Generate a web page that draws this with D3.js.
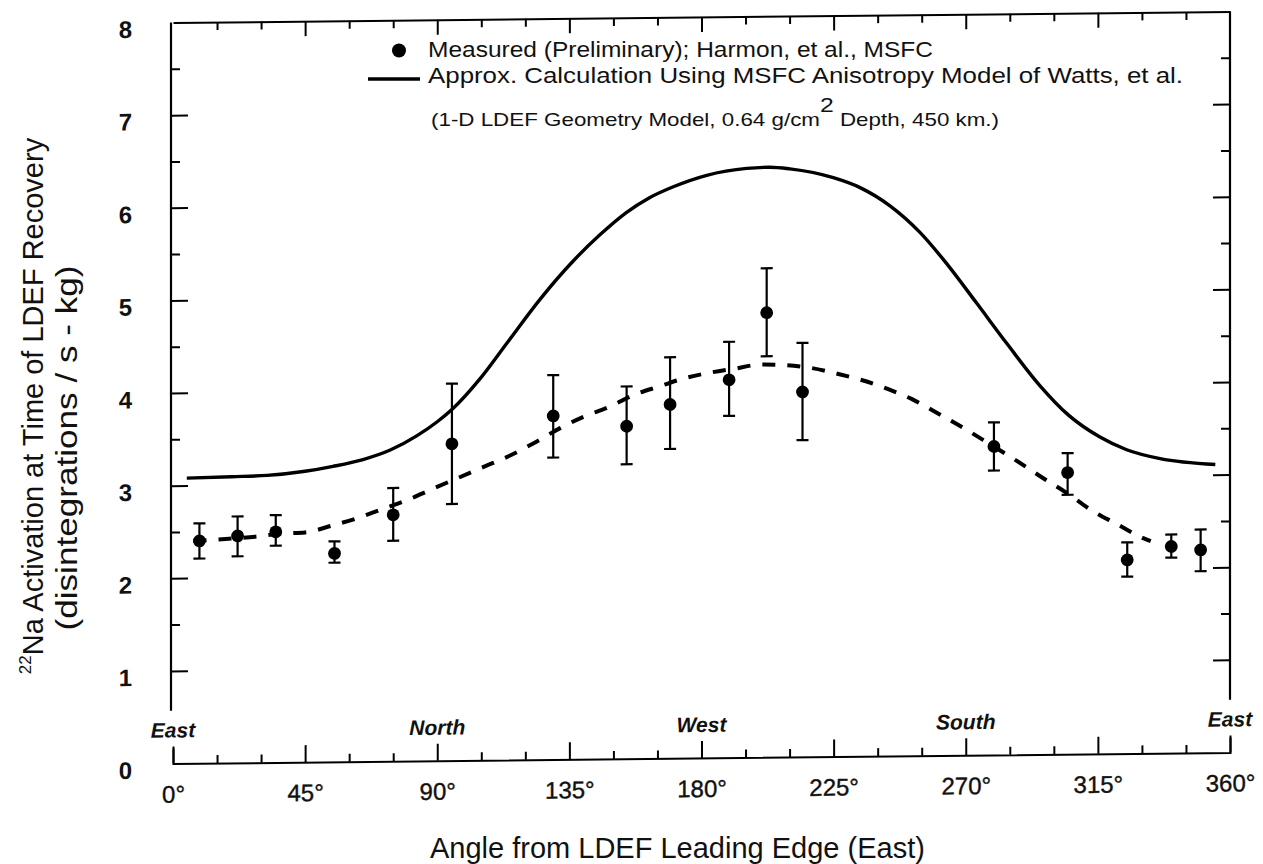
<!DOCTYPE html>
<html>
<head>
<meta charset="utf-8">
<script src="https://cdn.jsdelivr.net/npm/d3@7"></script>
<style>
  body { margin: 0; background: #fff; }
  svg { display: block; }
  text { font-family: "Liberation Sans", Arial, Helvetica, sans-serif; fill: #111; }
</style>
</head>
<body>
<div id="chart"></div>
<script>
// measured points (angle in degrees, activity, error bar ends)
var measuredAngle = [9, 22, 35, 55, 75, 95, 129.5, 154.5, 169.3, 189.4, 202.2, 214.4, 279.6, 304.7, 325, 340, 350];
var measuredValue = [2.40, 2.45, 2.49, 2.25, 2.66, 3.42, 3.71, 3.59, 3.82, 4.08, 4.80, 3.94, 3.33, 3.04, 2.09, 2.23, 2.19];
var measuredLow   = [2.21, 2.23, 2.34, 2.15, 2.38, 2.77, 3.26, 3.18, 3.34, 3.69, 4.33, 3.42, 3.07, 2.80, 1.91, 2.11, 1.96];
var measuredHigh  = [2.59, 2.66, 2.67, 2.38, 2.95, 4.07, 4.15, 4.02, 4.33, 4.49, 5.28, 4.47, 3.59, 3.25, 2.28, 2.36, 2.41];

// solid curve: anisotropy model calculation
var calcAngle = [4.7, 20, 32, 45, 54.5, 64.7, 74, 83, 90, 95, 104.6, 113.7, 125, 136.3, 145.4, 154.5, 162, 170.4, 181.8, 195.4, 203, 210.1, 224.9, 234, 244.2, 254.4, 263.5, 273.7, 284, 295.3, 305, 315.7, 324.8, 336.2, 355];
var calcValue = [3.08, 3.09, 3.10, 3.14, 3.19, 3.26, 3.36, 3.51, 3.66, 3.79, 4.12, 4.50, 4.97, 5.38, 5.66, 5.90, 6.05, 6.17, 6.29, 6.36, 6.37, 6.35, 6.25, 6.14, 5.94, 5.65, 5.31, 4.88, 4.44, 3.98, 3.66, 3.42, 3.28, 3.18, 3.11];

// dashed curve through the measurements
var fitAngle = [7, 19, 28, 37, 45, 54, 63, 71, 80, 88, 97, 106, 115, 123, 132, 140, 148.5, 156.4, 166, 174, 183, 191.4, 200, 209, 217, 226.6, 234.8, 243.6, 251.7, 260.7, 269.4, 278, 286.5, 296, 304.4, 313.3, 321.4, 330.7, 333];
var fitValue = [2.40, 2.42, 2.44, 2.47, 2.48, 2.55, 2.63, 2.72, 2.82, 2.93, 3.05, 3.17, 3.29, 3.42, 3.58, 3.70, 3.80, 3.92, 4.02, 4.10, 4.16, 4.20, 4.24, 4.23, 4.20, 4.13, 4.06, 3.96, 3.85, 3.69, 3.53, 3.36, 3.19, 2.99, 2.82, 2.62, 2.48, 2.32, 2.29];

var xMajorTicks = [0, 45, 90, 135, 180, 225, 270, 315, 360];
var xTickLabels = ["0°", "45°", "90°", "135°", "180°", "225°", "270°", "315°", "360°"];
var xMinorTicks = [15, 30, 60, 75, 105, 120, 150, 165, 195, 210, 240, 255, 285, 300, 330, 345];
var yLabelTicks = [0, 1, 2, 3, 4, 5, 6, 7, 8];
var yMajorTicks = [1, 2, 3, 4, 5, 6, 7];
var yMinorTicks = [1.5, 2.5, 3.5, 4.5, 5.5, 6.5, 7.5];
var directionAngles = [0, 90, 180, 270, 360];
var directionLabels = ["East", "North", "West", "South", "East"];

var width = 1263, height = 864;
var sideAxisEnd = 0.57;  // left/right frame lines stop short of the bottom axis

var svg = d3.select("#chart")
  .append("svg")
    .attr("width", width)
    .attr("height", height);

// the scanned figure is tilted a little
var g = svg.append("g")
  .attr("transform", "translate(700,0) skewY(-0.6) translate(-700,0)");

var x = d3.scaleLinear().domain([0, 360]).range([173, 1230]);
var y = d3.scaleLinear().domain([0, 8]).range([758, 17]);

// bottom axis
g.append("g")
  .attr("transform", "translate(0," + y(0) + ")")
  .call(d3.axisBottom(x).tickValues(xMinorTicks).tickSize(-8).tickSizeOuter(-15).tickFormat(""))
  .classed("axis", true);
var bottomMajor = g.append("g")
  .attr("transform", "translate(0," + y(0) + ")")
  .call(d3.axisBottom(x).tickValues(xMajorTicks).tickSize(-17).tickPadding(22)
    .tickFormat(function(d, i) { return xTickLabels[i]; }))
  .classed("axis", true);
bottomMajor.select(".domain").remove();
bottomMajor.selectAll("text")
  .style("font-size", "24px")
  .style("stroke", "#111")
  .style("stroke-width", 0.4);

// top axis
g.append("g")
  .attr("transform", "translate(0," + y(8) + ")")
  .call(d3.axisTop(x).tickValues(xMinorTicks).tickSize(-8).tickSizeOuter(0).tickFormat(""))
  .classed("axis", true);
g.append("g")
  .attr("transform", "translate(0," + y(8) + ")")
  .call(d3.axisTop(x).tickValues([45, 90, 135, 180, 225, 270, 315]).tickSize(-15).tickFormat(""))
  .classed("axis", true)
  .select(".domain").remove();

// left axis
g.append("line")
  .attr("x1", x(0) - 2).attr("x2", x(0) - 2)
  .attr("y1", y(8)).attr("y2", y(sideAxisEnd))
  .classed("frame", true);
var leftMinor = g.append("g")
  .attr("transform", "translate(" + (x(0) - 2) + ",0)")
  .call(d3.axisLeft(y).tickValues(yMinorTicks).tickSize(-9).tickFormat(""))
  .classed("axis", true);
leftMinor.select(".domain").remove();
var leftMajor = g.append("g")
  .attr("transform", "translate(" + (x(0) - 2) + ",0)")
  .call(d3.axisLeft(y).tickValues(yMajorTicks).tickSize(-17).tickFormat(""))
  .classed("axis", true);
leftMajor.select(".domain").remove();
var leftLabels = g.append("g")
  .attr("transform", "translate(" + (x(0) - 2) + ",0)")
  .call(d3.axisLeft(y).tickValues(yLabelTicks).tickSize(0).tickPadding(39));
leftLabels.select(".domain").remove();
leftLabels.selectAll("text")
  .attr("dy", "0.6em")
  .style("font-size", "24px")
  .style("font-weight", "bold");

// right axis
g.append("line")
  .attr("x1", x(360)).attr("x2", x(360))
  .attr("y1", y(8)).attr("y2", y(sideAxisEnd))
  .classed("frame", true);
g.append("g")
  .attr("transform", "translate(" + x(360) + ",0)")
  .call(d3.axisRight(y).tickValues(yMinorTicks).tickSize(-9).tickFormat(""))
  .classed("axis", true)
  .select(".domain").remove();
g.append("g")
  .attr("transform", "translate(" + x(360) + ",0)")
  .call(d3.axisRight(y).tickValues(yMajorTicks).tickSize(-17).tickFormat(""))
  .classed("axis", true)
  .select(".domain").remove();

// compass directions along the bottom
g.selectAll(".direction")
  .data(directionAngles)
  .enter().append("text")
    .classed("direction", true)
    .attr("x", function(d) { return x(d); })
    .attr("y", 732)
    .attr("text-anchor", "middle")
    .style("font-size", "21px")
    .style("font-style", "italic")
    .style("font-weight", "bold")
    .text(function(d, i) { return directionLabels[i]; });

// model calculation (solid)
g.append("path")
  .datum(d3.zip(calcAngle, calcValue))
  .attr("fill", "none")
  .attr("stroke", "#000")
  .attr("stroke-width", 3.4)
  .attr("d", d3.line()
    .x(function(d) { return x(d[0]); })
    .y(function(d) { return y(d[1]); })
    .curve(d3.curveMonotoneX));

// dashed curve
g.append("path")
  .datum(d3.zip(fitAngle, fitValue))
  .attr("fill", "none")
  .attr("stroke", "#000")
  .attr("stroke-width", 4)
  .attr("stroke-dasharray", "13,12")
  .attr("d", d3.line()
    .x(function(d) { return x(d[0]); })
    .y(function(d) { return y(d[1]); })
    .curve(d3.curveMonotoneX));

// error bars
var bars = g.selectAll(".errbar")
  .data(measuredAngle)
  .enter().append("g")
    .classed("errbar", true);
bars.append("line")
  .attr("x1", function(d) { return x(d); })
  .attr("x2", function(d) { return x(d); })
  .attr("y1", function(d, i) { return y(measuredLow[i]); })
  .attr("y2", function(d, i) { return y(measuredHigh[i]); });
bars.append("line")
  .attr("x1", function(d) { return x(d) - 6; })
  .attr("x2", function(d) { return x(d) + 6; })
  .attr("y1", function(d, i) { return y(measuredLow[i]); })
  .attr("y2", function(d, i) { return y(measuredLow[i]); });
bars.append("line")
  .attr("x1", function(d) { return x(d) - 6; })
  .attr("x2", function(d) { return x(d) + 6; })
  .attr("y1", function(d, i) { return y(measuredHigh[i]); })
  .attr("y2", function(d, i) { return y(measuredHigh[i]); });
bars.selectAll("line")
  .attr("stroke", "#000")
  .attr("stroke-width", 2.2);

// measured points
g.selectAll(".dot")
  .data(measuredAngle)
  .enter().append("circle")
    .classed("dot", true)
    .attr("cx", function(d) { return x(d); })
    .attr("cy", function(d, i) { return y(measuredValue[i]); })
    .attr("r", 6.4)
    .attr("fill", "#000");

// legend (kept out of the tilted group so the lines do not collide)
svg.append("circle")
  .attr("cx", 399).attr("cy", 50.5).attr("r", 7)
  .attr("fill", "#000");
svg.append("line")
  .attr("x1", 368).attr("x2", 420)
  .attr("y1", 79).attr("y2", 79)
  .attr("stroke", "#000")
  .attr("stroke-width", 3.4);
svg.append("text")
  .attr("x", 428).attr("y", 57)
  .attr("textLength", 505)
  .attr("lengthAdjust", "spacingAndGlyphs")
  .style("font-size", "22px")
  .text("Measured (Preliminary); Harmon, et al., MSFC");
svg.append("text")
  .attr("x", 428).attr("y", 83)
  .attr("textLength", 755)
  .attr("lengthAdjust", "spacingAndGlyphs")
  .style("font-size", "22px")
  .text("Approx. Calculation Using MSFC Anisotropy Model of Watts, et al.");
var note = svg.append("text")
  .attr("x", 431).attr("y", 126)
  .attr("textLength", 568)
  .attr("lengthAdjust", "spacingAndGlyphs")
  .style("font-size", "19px");
note.append("tspan").text("(1-D LDEF Geometry Model, 0.64 g/cm");
note.append("tspan").attr("dy", -14).style("font-size", "21px").text("2");
note.append("tspan").attr("dy", 14).text(" Depth, 450 km.)");

// axis titles
svg.append("text")
  .attr("x", 430).attr("y", 858)
  .style("font-size", "29px")
  .text("Angle from LDEF Leading Edge (East)");
var yTitle = svg.append("text")
  .attr("transform", "translate(43,406) rotate(-90)")
  .attr("text-anchor", "middle")
  .style("font-size", "29px");
yTitle.append("tspan").attr("dy", -12).style("font-size", "17px").text("22");
yTitle.append("tspan").attr("dy", 12).text("Na Activation at Time of LDEF Recovery");
svg.append("text")
  .attr("transform", "translate(77,448) rotate(-90)")
  .attr("text-anchor", "middle")
  .attr("textLength", 365)
  .attr("lengthAdjust", "spacingAndGlyphs")
  .style("font-size", "29px")
  .text("(disintegrations / s - kg)");

// frame styling
svg.selectAll(".axis").selectAll("path")
  .attr("stroke", "#000")
  .attr("stroke-width", 2);
svg.selectAll(".axis").selectAll("line")
  .attr("stroke", "#000")
  .attr("stroke-width", 2);
svg.selectAll(".frame")
  .attr("stroke", "#000")
  .attr("stroke-width", 2.2);
</script>
</body>
</html>
